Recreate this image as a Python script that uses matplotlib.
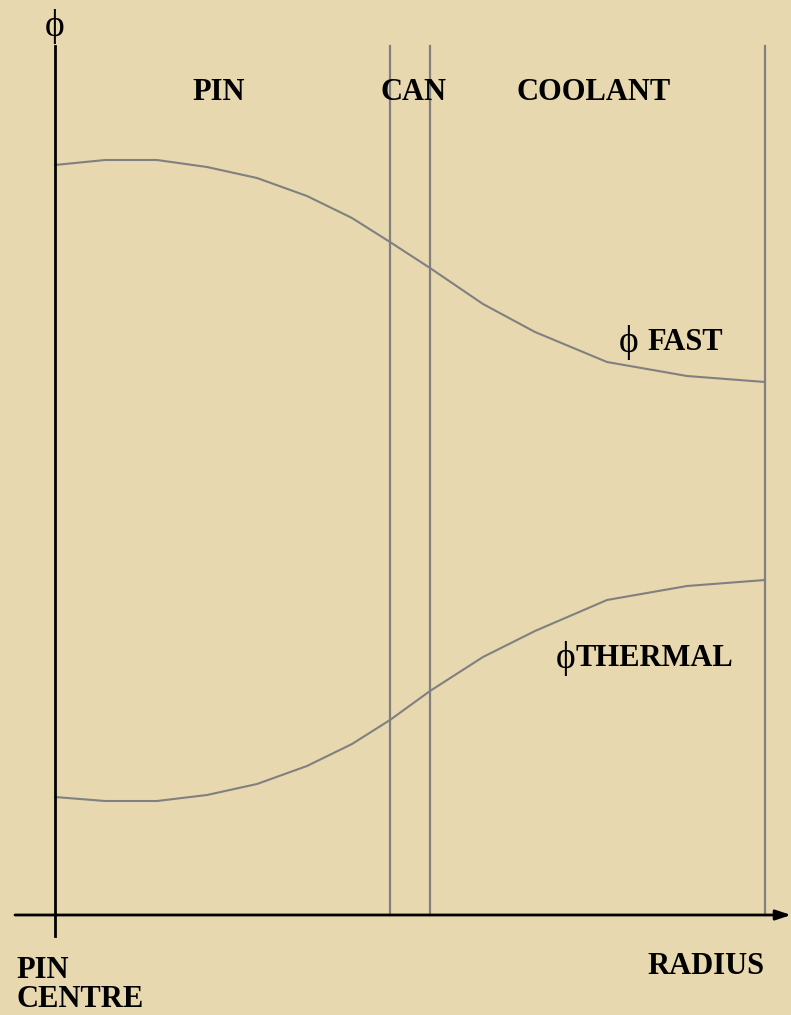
import matplotlib
matplotlib.use("Agg")
import matplotlib.pyplot as plt

# Radius positions (relative to pin centre) and flux levels (relative to radius axis)
radius = [0, 50, 102, 152, 202, 252, 297, 335, 375, 428, 480, 552, 632, 710]
phi_fast = [750, 755, 755, 748, 737, 719, 697, 673, 647, 611, 583, 553, 539, 533]
phi_thermal = [118, 114, 114, 120, 131, 149, 171, 195, 224, 258, 284, 315, 329, 335]
boundaries = [335, 375, 710]
region_labels = ["PIN", "CAN", "COOLANT"]
region_centres = [164, 359, 539]

BG = "#E8D8B0"
GREY = "#808080"
serif = ["Liberation Serif", "DejaVu Serif"]

fig = plt.figure(figsize=(7.91, 10.15), dpi=100, facecolor=BG)
ax = fig.add_axes([0, 0, 1, 1])
ax.set_facecolor(BG)
ax.set_xlim(-55, 736)
ax.set_ylim(-100, 915)
ax.axis("off")

# curves
ax.plot(radius, phi_fast, color=GREY, lw=1.5)
ax.plot(radius, phi_thermal, color=GREY, lw=1.5)

# region boundaries
for b in boundaries:
    ax.plot([b, b], [0, 869], color=GREY, lw=1.6)

# axes
ax.plot([0, 0], [-21, 869], color="black", lw=2)
ax.annotate("", xy=(736, 0), xytext=(-40, 0),
            arrowprops=dict(arrowstyle="-|>,head_length=0.9,head_width=0.3",
                            color="black", lw=2, shrinkA=0, shrinkB=0))

fs = 22
pfs = 27
for lab, c in zip(region_labels, region_centres):
    ax.text(c, 823, lab, ha="center", va="center", fontsize=fs,
            fontweight="bold", family=serif)

ax.text(0, 889, "ϕ", ha="center", va="center", fontsize=pfs, family=serif)
ax.text(574, 573, "ϕ", ha="center", va="center", fontsize=pfs, family=serif)
ax.text(592, 573, "FAST", ha="left", va="center", fontsize=fs,
        fontweight="bold", family=serif)
ax.text(511, 257, "ϕ", ha="center", va="center", fontsize=pfs, family=serif)
ax.text(521, 257, "THERMAL", ha="left", va="center", fontsize=fs,
        fontweight="bold", family=serif)
ax.text(709, -52, "RADIUS", ha="right", va="center", fontsize=fs,
        fontweight="bold", family=serif)
ax.text(-39, -70, "PIN\nCENTRE", ha="left", va="center", fontsize=fs,
        fontweight="bold", family=serif, linespacing=1.0)

fig.savefig("out.png", dpi=100, facecolor=BG)
